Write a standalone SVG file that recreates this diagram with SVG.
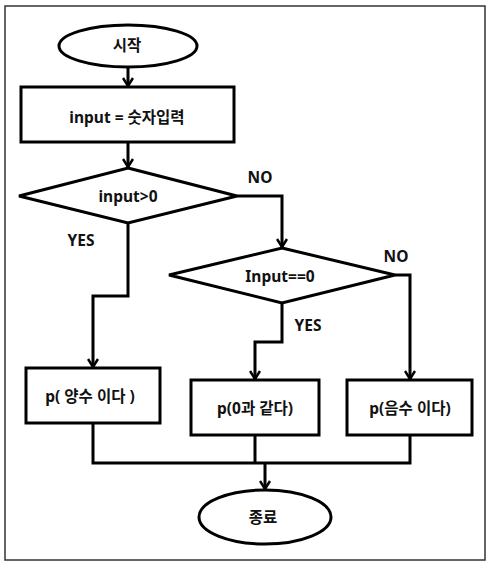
<svg xmlns="http://www.w3.org/2000/svg" width="490" height="578" viewBox="0 0 490 578">
<style>
.s{fill:#fff;stroke:#000;stroke-width:3}
.c{fill:none;stroke:#000;stroke-width:3;stroke-linejoin:miter}
text{font-family:"Noto Sans","Noto Sans CJK KR",sans-serif;font-weight:bold;font-size:15.5px;fill:#111;text-anchor:middle;dominant-baseline:central}
</style>
<defs>
<marker id="a" markerWidth="12" markerHeight="12" viewBox="0 0 12 12" refX="10" refY="6" orient="auto" markerUnits="userSpaceOnUse">
<polyline points="2,1 10,6 2,11" fill="none" stroke="#000" stroke-width="2.5"/>
</marker>
</defs>
<rect x="5" y="6" width="480" height="554" fill="#fff" stroke="#333" stroke-width="1.5"/>
<g id="connectors">
<line class="c" x1="128" y1="67" x2="128" y2="86" marker-end="url(#a)"/>
<line class="c" x1="128" y1="142" x2="128" y2="167" marker-end="url(#a)"/>
<polyline class="c" points="237,196 282,196 282,247" marker-end="url(#a)"/>
<polyline class="c" points="128,223 128,296 93,296 93,367" marker-end="url(#a)"/>
<polyline class="c" points="282,303 282,342 255,342 255,379" marker-end="url(#a)"/>
<polyline class="c" points="395,275 410,275 410,379" marker-end="url(#a)"/>
<polyline class="c" points="93,423 93,463 410,463 410,435"/>
<line class="c" x1="255" y1="435" x2="255" y2="463"/>
<line class="c" x1="265" y1="463" x2="265" y2="489" marker-end="url(#a)"/>
<text x="260" y="177">NO</text>
<text x="81" y="240">YES</text>
<text x="396" y="256">NO</text>
<text x="308" y="325">YES</text>
</g>
<g id="start"><ellipse class="s" cx="128" cy="46" rx="69" ry="21"/><text x="127" y="45">시작</text></g>
<g id="input"><rect class="s" x="21" y="87" width="213" height="55"/><text x="127" y="117">input = 숫자입력</text></g>
<g id="cond1"><polygon class="s" points="128,168 237,196 128,223 19,196"/><text x="128" y="196">input&gt;0</text></g>
<g id="cond2"><polygon class="s" points="282,248 395,275 282,303 169,275"/><text x="280" y="276">Input==0</text></g>
<g id="pos"><rect class="s" x="26" y="368" width="134" height="55"/><text x="90" y="396">p( 양수 이다 )</text></g>
<g id="zero"><rect class="s" x="191" y="380" width="128" height="55"/><text x="255" y="408">p(0과 같다)</text></g>
<g id="neg"><rect class="s" x="347" y="380" width="125" height="55"/><text x="410" y="408">p(음수 이다)</text></g>
<g id="end"><ellipse class="s" cx="265" cy="517" rx="66" ry="27"/><text x="263" y="517">종료</text></g>
</svg>
